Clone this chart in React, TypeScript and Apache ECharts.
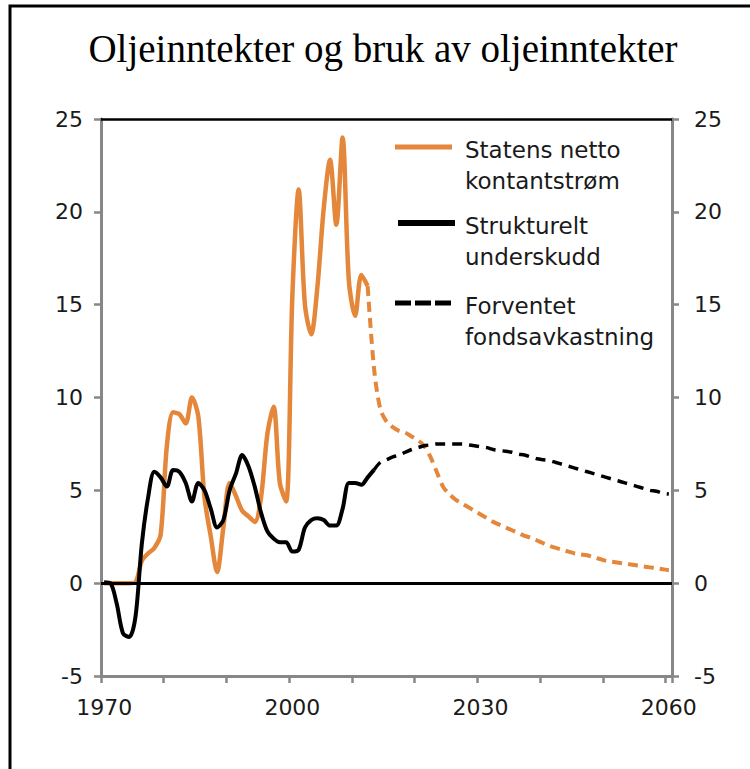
import React, { useEffect, useRef } from "react";
import * as echarts from "echarts";

const years: string[] = Array.from({ length: 91 }, (_, i) => String(1970 + i));

// Statens netto kontantstrøm, 1970–2012 (history)
const cashFlowStart = 1970;
const cashFlowHist = [
  0, 0, 0, 0, 0, 0.05, 1.2, 1.6, 1.9, 2.6,
  7.4, 9.2, 9.1, 8.6, 10.0, 9.0, 4.6, 2.5, 0.6, 3.0,
  5.4, 4.7, 3.9, 3.6, 3.3, 4.6, 8.0, 9.5, 5.4, 4.4,
  15.5, 21.2, 15.0, 13.4, 16.0, 20.2, 22.8, 19.3, 24.0, 16.3,
  14.4, 16.6, 16.0,
];

// Statens netto kontantstrøm, projection 2012–2060
const cashFlowProjStart = 2012;
const cashFlowProj = [
  16.0, 11.6, 9.4, 8.7, 8.4, 8.2, 8.1, 7.9, 7.7, 7.4,
  6.8, 6.0, 5.2, 4.8, 4.5, 4.3, 4.1, 3.9, 3.7, 3.5,
  3.3, 3.15, 3.0, 2.85, 2.7, 2.55, 2.45, 2.3, 2.15, 2.0,
  1.9, 1.8, 1.7, 1.6, 1.55, 1.5, 1.4, 1.3, 1.2, 1.15,
  1.1, 1.05, 1.0, 0.95, 0.9, 0.85, 0.8, 0.75, 0.7,
];

// Strukturelt underskudd, 1970–2013
const deficitStart = 1970;
const deficitHist = [
  0.05, 0.0, -1.1, -2.7, -2.9, -1.8, 2.1, 4.6, 6.0, 5.7,
  5.2, 6.1, 6.0, 5.4, 4.4, 5.4, 5.0, 4.0, 3.0, 3.4,
  5.0, 5.9, 6.9, 6.3, 5.2, 3.8, 2.8, 2.4, 2.2, 2.2,
  1.7, 1.8, 3.0, 3.4, 3.5, 3.4, 3.1, 3.1, 4.0, 5.4,
  5.4, 5.3, 5.7, 6.1,
];

// Forventet fondsavkastning, 2013–2060
const returnStart = 2013;
const expectedReturn = [
  6.1, 6.5, 6.65, 6.8, 6.9, 7.05, 7.2, 7.3, 7.4, 7.45,
  7.5, 7.5, 7.5, 7.5, 7.5, 7.45, 7.4, 7.35, 7.3, 7.2,
  7.15, 7.1, 7.05, 6.95, 6.9, 6.8, 6.7, 6.65, 6.6, 6.5,
  6.4, 6.3, 6.2, 6.1, 6.0, 5.9, 5.8, 5.7, 5.6, 5.5,
  5.4, 5.3, 5.2, 5.1, 5.0, 4.95, 4.85, 4.8,
];

const yTicks = { min: -5, max: 25, interval: 5 };

const titleText = "Oljeinntekter og bruk av oljeinntekter";
const legendNames = [
  "Statens netto\nkontantstrøm",
  "Strukturelt\nunderskudd",
  "Forventet\nfondsavkastning",
];

const ORANGE = "#E4873A";
const GRAY = "#878787";
const SANS = "DejaVu Sans";

function pad(values: number[], start: number): (number | null)[] {
  return years.map((y) => {
    const idx = Number(y) - start;
    return idx >= 0 && idx < values.length ? values[idx] : null;
  });
}

export default function App() {
  const ref = useRef<HTMLDivElement>(null);

  useEffect(() => {
    if (!ref.current) return;
    const chart = echarts.init(ref.current, undefined, { renderer: "svg" });

    const valueAxis = (position: "left" | "right", margin: number) => ({
      type: "value",
      position,
      min: yTicks.min,
      max: yTicks.max,
      interval: yTicks.interval,
      axisLine: { show: true, onZero: false, lineStyle: { color: GRAY, width: 3 } },
      axisTick: { show: true, length: 7, lineStyle: { color: GRAY, width: 2.5 } },
      axisLabel: {
        color: "#1a1a1a",
        fontFamily: SANS,
        fontSize: 22,
        margin,
      },
      splitLine: { show: false },
    });

    chart.setOption({
      animation: false,
      backgroundColor: "#ffffff",
      title: {
        text: titleText,
        left: 383,
        textAlign: "center",
        top: 29,
        padding: 0,
        textStyle: {
          fontFamily: "Liberation Serif",
          fontSize: 39,
          fontWeight: "normal",
          color: "#000",
        },
      },
      grid: { left: 101, right: 78, top: 119, bottom: 93, containLabel: false },
      xAxis: [
        {
          type: "category",
          data: years,
          boundaryGap: true,
          position: "bottom",
          axisLine: { show: true, onZero: false, lineStyle: { color: GRAY, width: 3 } },
          axisTick: { show: true, interval: 9, length: 7, lineStyle: { color: GRAY, width: 2.5 } },
          axisLabel: {
            interval: 29,
            color: "#1a1a1a",
            fontFamily: SANS,
            fontSize: 22,
            margin: 20,
          },
          splitLine: { show: false },
        },
        {
          type: "category",
          data: years,
          boundaryGap: true,
          position: "top",
          axisLine: { show: true, onZero: false, lineStyle: { color: "#000", width: 2.5 } },
          axisTick: { show: false },
          axisLabel: { show: false },
          splitLine: { show: false },
        },
      ],
      yAxis: [valueAxis("left", 18), valueAxis("right", 22)],
      series: [
        {
          name: "Strukturelt underskudd",
          type: "line",
          data: pad(deficitHist, deficitStart),
          smooth: 0.3,
          showSymbol: false,
          lineStyle: { color: "#000", width: 4 },
          z: 3,
          markLine: {
            silent: true,
            symbol: ["none", "none"],
            label: { show: false },
            lineStyle: { color: "#000", width: 3, type: "solid" },
            data: [{ yAxis: 0 }],
          },
        },
        {
          name: "Forventet fondsavkastning",
          type: "line",
          data: pad(expectedReturn, returnStart),
          smooth: 0.3,
          showSymbol: false,
          lineStyle: { color: "#000", width: 3.5, type: [10, 7] },
          z: 3,
        },
        {
          name: "Statens netto kontantstrøm",
          type: "line",
          data: pad(cashFlowHist, cashFlowStart),
          smooth: 0.3,
          showSymbol: false,
          lineStyle: { color: ORANGE, width: 4.5 },
          z: 2,
        },
        {
          name: "Statens netto kontantstrøm (framskrevet)",
          type: "line",
          data: pad(cashFlowProj, cashFlowProjStart),
          smooth: 0.3,
          showSymbol: false,
          lineStyle: { color: ORANGE, width: 4, type: [10, 6] },
          z: 2,
        },
      ],
      graphic: [
        {
          type: "rect",
          shape: { x: 10, y: 6, width: 800, height: 800 },
          style: { fill: "none", stroke: "#000", lineWidth: 3 },
          silent: true,
        },
        {
          type: "line",
          shape: { x1: 395, y1: 147, x2: 452, y2: 147 },
          style: { stroke: ORANGE, lineWidth: 5 },
        },
        {
          type: "line",
          shape: { x1: 398, y1: 223, x2: 455, y2: 223 },
          style: { stroke: "#000", lineWidth: 6 },
        },
        {
          type: "line",
          shape: { x1: 395, y1: 303, x2: 452, y2: 303 },
          style: { stroke: "#000", lineWidth: 5, lineDash: [16, 4] },
        },
        {
          type: "text",
          x: 465,
          y: 134,
          style: {
            text: legendNames[0],
            fontFamily: SANS,
            fontSize: 23,
            lineHeight: 31,
            fill: "#1a1a1a",
            verticalAlign: "top",
          },
        },
        {
          type: "text",
          x: 465,
          y: 210,
          style: {
            text: legendNames[1],
            fontFamily: SANS,
            fontSize: 23,
            lineHeight: 31,
            fill: "#1a1a1a",
            verticalAlign: "top",
          },
        },
        {
          type: "text",
          x: 465,
          y: 290,
          style: {
            text: legendNames[2],
            fontFamily: SANS,
            fontSize: 23,
            lineHeight: 31,
            fill: "#1a1a1a",
            verticalAlign: "top",
          },
        },
      ],
    });

    return () => chart.dispose();
  }, []);

  return (
    <div
      ref={ref}
      style={{ position: "absolute", left: 0, top: 0, width: 750, height: 769 }}
    />
  );
}
